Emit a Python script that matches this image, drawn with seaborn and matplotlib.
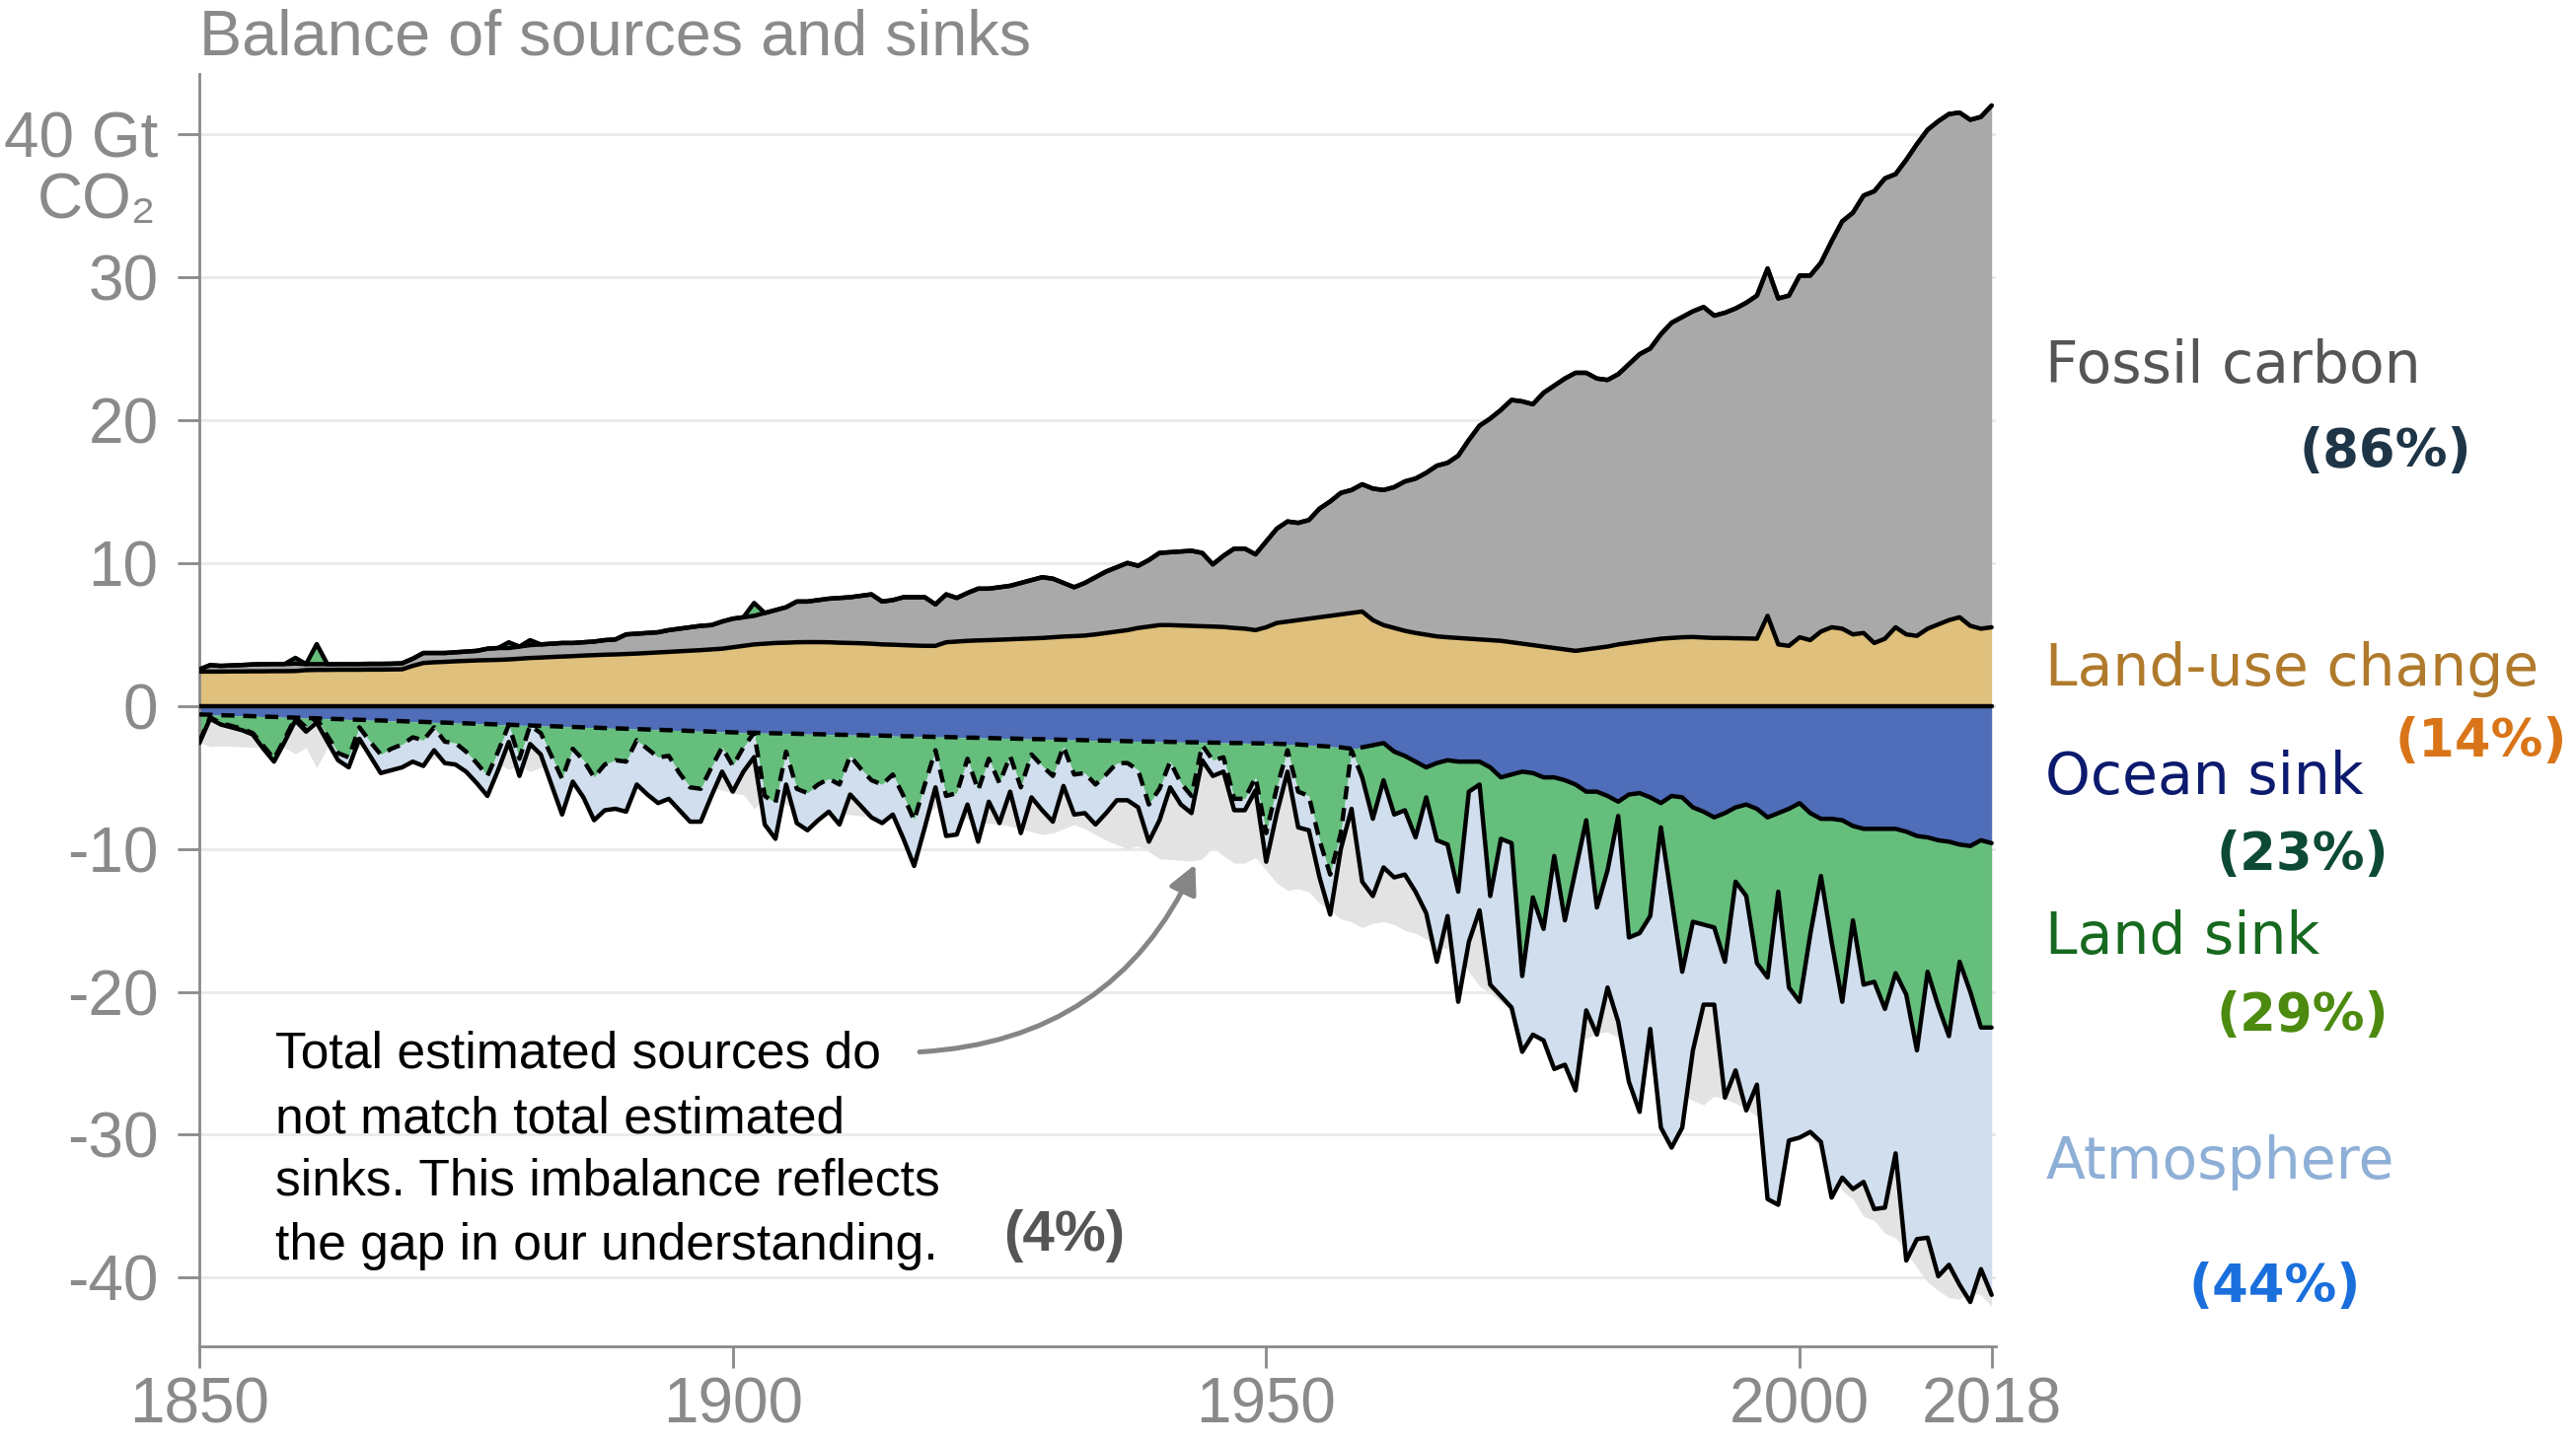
import numpy as np
import pandas as pd
import matplotlib.pyplot as plt
import seaborn as sns

# ----------------------------------------
# Style
# ----------------------------------------
sns.set_theme(style="white")
plt.rcParams["font.family"] = ["Liberation Sans", "DejaVu Sans"]

# ----------------------------------------
# Data (Gt CO2 per year, 1850-2018)
# ----------------------------------------
years = list(range(1850, 2019))

fossil = [
    0.15, 0.45, 0.40, 0.42, 0.45, 0.48, 0.50, 0.50, 0.50, 0.52,
    0.42, 0.40, 0.40, 0.40, 0.40, 0.40, 0.40, 0.40, 0.40, 0.42,
    0.50, 0.70, 0.65, 0.62, 0.63, 0.65, 0.67, 0.80, 0.83, 0.80,
    0.85, 0.90, 0.92, 0.93, 0.95, 0.92, 0.93, 0.95, 1.02, 1.05,
    1.37, 1.39, 1.40, 1.41, 1.52, 1.58, 1.64, 1.70, 1.70, 1.90,
    2.00, 2.00, 2.00, 2.15, 2.30, 2.48, 2.85, 2.84, 2.94, 3.05,
    3.13, 3.20, 3.32, 3.45, 3.00, 3.12, 3.35, 3.38, 3.40, 2.90,
    3.35, 3.05, 3.35, 3.62, 3.60, 3.67, 3.74, 3.91, 4.08, 4.25,
    4.10, 3.75, 3.42, 3.68, 4.00, 4.30, 4.50, 4.70, 4.35, 4.65,
    5.05, 5.10, 5.18, 5.25, 5.13, 4.35, 4.98, 5.55, 5.60, 5.30,
    6.00, 6.60, 7.00, 6.80, 6.90, 7.60, 8.00, 8.50, 8.60, 8.90,
    9.20, 9.45, 9.85, 10.45, 10.80, 11.32, 11.94, 12.20, 12.75, 13.90,
    14.95, 15.50, 16.15, 16.95, 16.95, 16.85, 17.75, 18.35, 18.95, 19.45,
    19.35, 18.85, 18.65, 18.90, 19.50, 20.10, 20.40, 21.30, 22.05, 22.40,
    22.78, 23.12, 22.55, 22.75, 23.07, 23.48, 24.00, 24.30, 24.20, 24.50,
    25.30, 25.50, 25.80, 27.00, 28.50, 29.50, 30.60, 31.60, 32.20, 31.70,
    33.20, 34.40, 34.90, 35.20, 35.40, 35.30, 35.40, 35.80, 36.50,
]

land_use = [
    2.40, 2.40, 2.40, 2.41, 2.41, 2.42, 2.42, 2.43, 2.43, 2.44,
    2.50, 2.52, 2.52, 2.53, 2.53, 2.53, 2.54, 2.54, 2.55, 2.56,
    2.80, 3.00, 3.05, 3.08, 3.12, 3.15, 3.18, 3.20, 3.22, 3.25,
    3.30, 3.35, 3.38, 3.42, 3.45, 3.48, 3.52, 3.55, 3.58, 3.60,
    3.63, 3.66, 3.70, 3.74, 3.78, 3.82, 3.86, 3.90, 3.95, 4.00,
    4.10, 4.20, 4.30, 4.35, 4.40, 4.42, 4.45, 4.46, 4.46, 4.45,
    4.42, 4.40, 4.38, 4.35, 4.30, 4.28, 4.25, 4.22, 4.20, 4.20,
    4.45, 4.50, 4.55, 4.58, 4.60, 4.63, 4.66, 4.69, 4.72, 4.75,
    4.80, 4.85, 4.88, 4.92, 5.00, 5.10, 5.20, 5.30, 5.45, 5.55,
    5.65, 5.65, 5.62, 5.60, 5.57, 5.55, 5.52, 5.45, 5.40, 5.30,
    5.50, 5.80, 5.90, 6.00, 6.10, 6.20, 6.30, 6.40, 6.50, 6.60,
    6.00, 5.65, 5.45, 5.25, 5.10, 4.98, 4.86, 4.80, 4.75, 4.70,
    4.65, 4.60, 4.55, 4.45, 4.35, 4.25, 4.15, 4.05, 3.95, 3.85,
    3.95, 4.05, 4.15, 4.30, 4.40, 4.50, 4.60, 4.70, 4.75, 4.80,
    4.82, 4.78, 4.75, 4.75, 4.73, 4.72, 4.70, 6.30, 4.30, 4.20,
    4.80, 4.60, 5.20, 5.50, 5.40, 5.00, 5.10, 4.40, 4.70, 5.50,
    5.00, 4.90, 5.40, 5.70, 6.00, 6.20, 5.60, 5.40, 5.50,
]

ocean_sink = [
    -0.60, -0.62, -0.65, -0.67, -0.70, -0.72, -0.75, -0.77, -0.80, -0.82,
    -0.85, -0.87, -0.90, -0.92, -0.95, -0.97, -1.00, -1.02, -1.05, -1.07,
    -1.10, -1.12, -1.15, -1.17, -1.20, -1.22, -1.25, -1.27, -1.30, -1.32,
    -1.35, -1.37, -1.40, -1.42, -1.45, -1.47, -1.50, -1.52, -1.55, -1.57,
    -1.60, -1.62, -1.65, -1.67, -1.70, -1.72, -1.75, -1.77, -1.80, -1.82,
    -1.85, -1.87, -1.88, -1.90, -1.92, -1.93, -1.95, -1.97, -1.98, -2.00,
    -2.02, -2.03, -2.05, -2.07, -2.08, -2.10, -2.12, -2.13, -2.15, -2.17,
    -2.18, -2.20, -2.22, -2.23, -2.25, -2.27, -2.28, -2.30, -2.32, -2.33,
    -2.35, -2.37, -2.38, -2.40, -2.42, -2.43, -2.45, -2.47, -2.48, -2.50,
    -2.50, -2.52, -2.53, -2.55, -2.55, -2.57, -2.58, -2.60, -2.60, -2.62,
    -2.63, -2.65, -2.68, -2.70, -2.75, -2.80, -2.85, -2.90, -3.00, -2.90,
    -2.75, -2.60, -3.20, -3.50, -3.90, -4.30, -4.00, -3.80, -3.90, -3.90,
    -3.90, -4.30, -5.00, -4.80, -4.60, -4.70, -5.00, -5.00, -5.20, -5.50,
    -6.00, -6.00, -6.30, -6.70, -6.20, -6.10, -6.40, -6.80, -6.30, -6.40,
    -7.10, -7.40, -7.80, -7.50, -7.10, -6.90, -7.20, -7.80, -7.50, -7.20,
    -6.80, -7.50, -7.90, -7.90, -8.00, -8.40, -8.60, -8.60, -8.60, -8.60,
    -8.80, -9.10, -9.20, -9.40, -9.50, -9.70, -9.80, -9.40, -9.60,
]

# negative = sink, positive = land acting as a source
land_sink = [
    -1.90, -0.18, -0.55, -0.73, -0.90, -1.18, -2.05, -2.93, -1.50, 0.40,
    -0.65, 1.40, -1.20, -2.38, -2.65, -0.53, -1.50, -2.38, -1.95, -1.63,
    -1.10, -1.28, -0.35, -1.33, -1.40, -1.98, -2.75, -3.63, -1.90, 0.40,
    -2.35, 0.35, -0.50, -2.08, -3.65, -1.53, -2.30, -3.48, -2.55, -2.23,
    -2.30, -0.78, -1.35, -1.93, -1.80, -2.98, -3.95, -4.03, -2.50, -1.08,
    -2.35, -1.03, 0.90, -4.40, -4.88, -1.27, -3.85, -4.13, -3.52, -3.10,
    -3.48, -1.47, -2.35, -3.13, -3.42, -2.70, -4.18, -5.87, -3.35, -0.93,
    -4.12, -3.90, -1.48, -3.67, -1.45, -3.13, -1.22, -3.40, -1.08, -1.87,
    -2.55, -0.48, -2.42, -2.30, -3.08, -2.37, -1.55, -1.53, -2.02, -4.40,
    -3.30, -1.38, -2.87, -3.75, -0.20, -1.23, -1.02, -3.90, -3.90, -2.38,
    -6.27, -3.05, -0.42, -3.30, -3.55, -6.60, -8.95, -6.00, -0.10, -2.10,
    -5.15, -2.60, -4.40, -3.80, -5.30, -2.10, -5.40, -5.90, -9.10, -2.10,
    -1.60, -9.00, -4.30, -4.80, -14.30, -8.70, -10.60, -5.50, -9.80, -6.00,
    -2.00, -8.10, -5.20, -1.00, -10.00, -9.80, -8.30, -1.70, -7.20, -12.20,
    -8.00, -7.90, -7.70, -10.40, -5.20, -6.40, -10.80, -11.20, -5.50, -12.50,
    -13.90, -8.50, -4.00, -8.60, -12.70, -6.60, -10.90, -10.70, -12.60, -10.10,
    -11.40, -15.00, -9.40, -11.60, -13.60, -8.20, -10.20, -13.10, -12.90,
]

atmosphere = [
    0.10, 0.10, 0.10, 0.10, 0.10, 0.10, 0.20, 0.20, 0.20, 0.20,
    0.30, 0.30, 0.40, 0.50, 0.70, 0.80, 1.00, 1.30, 1.50, 1.60,
    1.70, 1.80, 1.60, 1.50, 1.50, 1.40, 1.40, 1.40, 1.30, 1.20,
    1.20, 1.30, 1.50, 2.00, 2.50, 2.30, 2.60, 3.00, 3.20, 3.40,
    3.50, 3.10, 3.20, 3.20, 3.00, 2.60, 2.40, 2.30, 2.00, 1.70,
    1.80, 1.70, 1.70, 2.00, 2.50, 2.30, 2.40, 2.60, 2.50, 2.30,
    2.80, 2.70, 2.60, 2.60, 2.70, 2.80, 3.00, 3.20, 3.00, 2.60,
    2.80, 2.90, 3.20, 3.60, 3.00, 2.80, 2.50, 3.20, 3.00, 3.10,
    3.20, 2.75, 2.80, 2.80, 2.80, 2.70, 2.60, 2.60, 2.60, 2.60,
    2.20, 1.80, 1.50, 1.20, 1.05, 1.10, 1.00, 0.80, 0.80, 0.90,
    2.00, 1.80, 1.50, 2.50, 2.40, 2.60, 2.80, 1.10, 4.10, 7.30,
    5.40, 6.10, 4.40, 4.50, 3.80, 8.10, 8.50, 5.00, 7.70, 10.50,
    8.80, 6.20, 11.00, 11.50, 5.30, 9.60, 7.80, 14.90, 10.10, 15.40,
    13.30, 8.90, 8.20, 14.40, 10.10, 12.50, 7.90, 21.00, 17.40, 10.90,
    9.00, 5.60, 5.40, 9.50, 13.20, 15.00, 8.50, 15.50, 21.90, 10.70,
    9.50, 13.80, 18.60, 17.90, 12.30, 18.80, 13.80, 15.90, 13.90, 12.60,
    18.60, 13.20, 18.60, 18.90, 16.00, 22.60, 21.70, 16.90, 18.70,
]

y_ticks = [-40, -30, -20, -10, 0, 10, 20, 30, 40]
y_tick_labels = ["-40", "-30", "-20", "-10", "0", "10", "20", "30", "40 Gt"]
x_ticks = [1850, 1900, 1950, 2000, 2018]
last_estimated_year = 1959

labels = ["Fossil carbon", "Land-use change", "Ocean sink", "Land sink", "Atmosphere"]
shares = ["(86%)", "(14%)", "(23%)", "(29%)", "(44%)"]
imbalance_share = "(4%)"
note_lines = [
    "Total estimated sources do",
    "not match total estimated",
    "sinks. This imbalance reflects",
    "the gap in our understanding.",
]

# ----------------------------------------
# Stacked edges
# ----------------------------------------
df = pd.DataFrame({
    "year": years,
    "fossil": fossil,
    "luc": land_use,
    "ocean": ocean_sink,
    "land": land_sink,
    "atm": atmosphere,
})
df["luc_top"] = df["luc"]
df["fossil_top"] = df["luc"] + df["fossil"]
df["source_top"] = df["fossil_top"] + df["land"].clip(lower=0)
df["ocean_edge"] = df["ocean"]
df["land_edge"] = df["ocean"] + df["land"].clip(upper=0)
df["sink_edge"] = df["land_edge"] - df["atm"]
df["mirror"] = -df["source_top"]

# ----------------------------------------
# Colours
# ----------------------------------------
c_fossil = "#a9a9a9"
c_luc = "#dfc07c"
c_ocean = "#4f6db8"
c_land = "#65be7c"
c_atm = "#d0deed"
c_gap = "#e3e3e3"
c_text = "#8a8a8a"

# ========================================
# Figure
# ========================================
fig = plt.figure(figsize=(13.055, 7.315), dpi=200)
ax = fig.add_axes([0.0774, 0.067, 0.6974, 0.8817])

x = df["year"]

ax.fill_between(x, 0, df["mirror"], color=c_gap, lw=0, zorder=1)
ax.fill_between(x, 0, df["luc_top"], color=c_luc, lw=0, zorder=2)
ax.fill_between(x, df["luc_top"], df["fossil_top"], color=c_fossil, lw=0, zorder=2)
ax.fill_between(x, df["fossil_top"], df["source_top"], color=c_land, lw=0, zorder=2)
ax.fill_between(x, 0, df["ocean_edge"], color=c_ocean, lw=0, zorder=2)
ax.fill_between(x, df["ocean_edge"], df["land_edge"], color=c_land, lw=0, zorder=2)
ax.fill_between(x, df["land_edge"], df["sink_edge"], color=c_atm, lw=0, zorder=2)

for col in ["source_top", "fossil_top", "luc_top", "sink_edge"]:
    sns.lineplot(data=df, x="year", y=col, color="black", lw=1.6, ax=ax, zorder=4)

ax.axhline(0, xmin=0, xmax=(2018 - 1850) / (2018.4 - 1850), color="black", lw=1.6, zorder=4)

early = df[df["year"] <= last_estimated_year]
late = df[df["year"] >= last_estimated_year]
for col in ["ocean_edge", "land_edge"]:
    ax.plot(early["year"], early[col], color="black", lw=1.6, dashes=(3, 2), zorder=4)
    sns.lineplot(data=late, x="year", y=col, color="black", lw=1.6, ax=ax, zorder=4)

# ----------------------------------------
# Axes
# ----------------------------------------
ax.set_xlim(1850, 2018.4)
ax.set_ylim(-44.8, 44.2)
ax.set_xlabel("")
ax.set_ylabel("")
ax.set_yticks(y_ticks)
ax.set_yticklabels(y_tick_labels)
ax.set_xticks(x_ticks)
ax.set_xticklabels([str(t) for t in x_ticks])
ax.tick_params(axis="both", which="major", length=8, width=1.0, color="#8a8a8a",
               labelsize=23, labelcolor=c_text, left=True, bottom=True)
ax.tick_params(axis="y", pad=7)
ax.tick_params(axis="x", pad=3)

ax.grid(axis="y", color="#e9e9e9", lw=1.0)
ax.grid(axis="x", visible=False)
ax.set_axisbelow(True)

for side in ["top", "right"]:
    ax.spines[side].set_visible(False)
for side in ["left", "bottom"]:
    ax.spines[side].set_color("#8a8a8a")
    ax.spines[side].set_linewidth(1.0)

# ----------------------------------------
# Text
# ----------------------------------------
fig.text(0.0774, 0.962, "Balance of sources and sinks", fontsize=23.3,
         color=c_text, ha="left", va="baseline")
fig.text(0.0605, 0.849, "CO₂", fontsize=23, color=c_text, ha="right", va="baseline")

label_colors = ["#555555", "#b07a2c", "#0c1a6e", "#17691f", "#8eafd6"]
label_y = [0.735, 0.525, 0.450, 0.339, 0.183]
share_colors = ["#1e3547", "#d97518", "#0d4a35", "#4c8a10", "#1a6fdc"]
share_x = [0.926, 0.963, 0.894, 0.894, 0.883]
share_y = [0.677, 0.476, 0.397, 0.286, 0.098]

for lab, col, yy in zip(labels, label_colors, label_y):
    fig.text(0.794, yy, lab, fontsize=21, color=col, family="DejaVu Sans",
             ha="left", va="baseline")
for sh, col, xx, yy in zip(shares, share_colors, share_x, share_y):
    fig.text(xx, yy, sh, fontsize=19, color=col, family="DejaVu Sans",
             fontweight="bold", ha="center", va="baseline")

fig.text(0.413, 0.133, imbalance_share, fontsize=21, color="#555555",
         fontweight="bold", ha="center", va="baseline")

note_y = [0.260, 0.215, 0.172, 0.127]
for line, yy in zip(note_lines, note_y):
    fig.text(0.107, yy, line, fontsize=18.6, color="black", ha="left", va="baseline")

ax.annotate(
    "",
    xy=(0.464, 0.401), xycoords="figure fraction",
    xytext=(0.357, 0.271), textcoords="figure fraction",
    arrowprops=dict(arrowstyle="-|>", color="#858585", lw=1.8,
                    mutation_scale=22, connectionstyle="arc3,rad=0.3",
                    shrinkA=0, shrinkB=0),
)

plt.savefig("out.png", dpi=200)
plt.close()
